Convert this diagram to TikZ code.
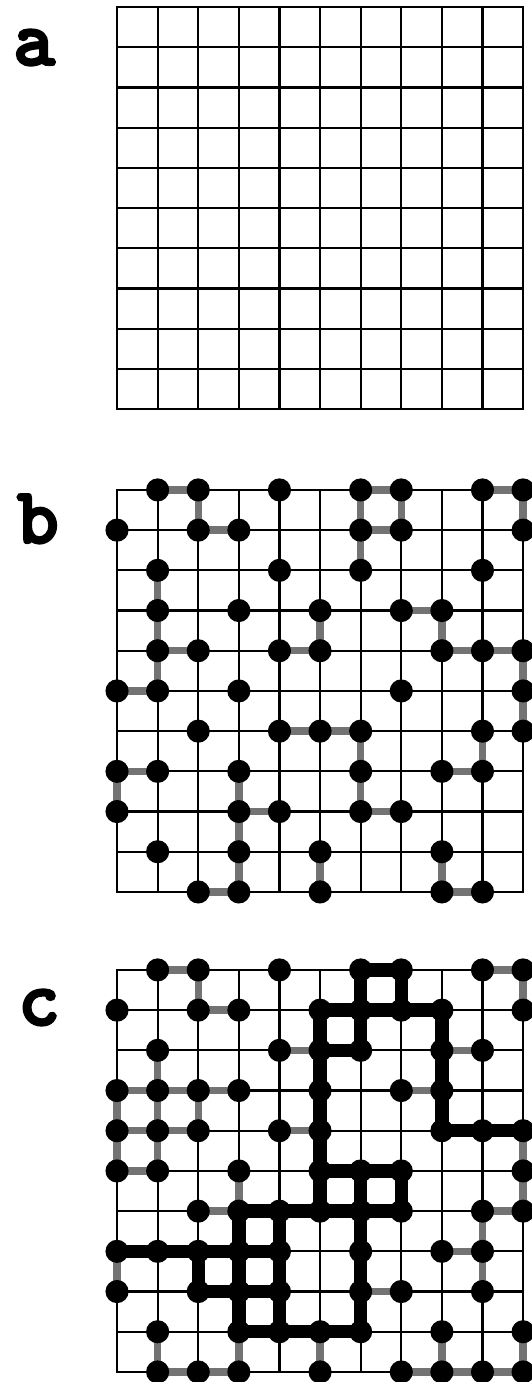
\documentclass[tikz,border=0pt]{standalone}
\usepackage{fontspec}
\newcommand\heavytext[1]{\special{pdf:literal q 2 Tr 1.6 w}#1\special{pdf:literal Q}}

\begin{document}
\begin{tikzpicture}[
  x=1cm, y=0.99cm,
  gridline/.style={line width=1.5pt, line cap=rect},
  site/.style={circle, fill=black, inner sep=0pt, minimum size=0.57cm},
  bond/.style={line width=5.2pt, draw=black!55},
  cluster/.style={line width=9.4pt, draw=black},
  panel/.style={anchor=base, inner sep=0pt, font=\ttfamily\bfseries\fontsize{56}{56}\selectfont}
]
\useasboundingbox (-2.882,0) rectangle (10.197,34.378);

% --- PANEL LABELS ---
\node[panel] (label-a) at (-2.04,32.76) {\heavytext{a}};
\node[panel] (label-b) at (-1.95,20.87) {\heavytext{b}};
\node[panel] (label-c) at (-1.92,8.88) {\heavytext{c}};

% --- LATTICE POINTS (column, row from top) ---
\foreach \i in {0,...,10}
  \foreach \j in {0,...,10} {
    \coordinate (a\i-\j) at ([shift={(0,24.20)}]\i,10-\j);
    \coordinate (b\i-\j) at ([shift={(0,12.19)}]\i,10-\j);
    \coordinate (c\i-\j) at ([shift={(0,0.25)}]\i,10-\j);
  }

% --- GRIDS ---
\foreach \p in {a,b,c}
  \foreach \i in {0,...,10} {
    \draw[gridline] (\p\i-0) -- (\p\i-10);
    \draw[gridline] (\p0-\i) -- (\p10-\i);
  }

% --- PANEL B: grey bonds ---
\foreach \c/\r [evaluate=\c as \next using int(\c+1)] in
  {1/0,6/0,9/0,2/1,6/1,7/3,1/4,4/4,8/4,9/4,0/5,4/6,5/6,0/7,8/7,3/8,6/8,2/10,8/10}
  \draw[bond] (b\c-\r) -- (b\next-\r);
\foreach \c/\r [evaluate=\r as \next using int(\r+1)] in
  {2/0,6/0,6/1,7/0,10/0,10/4,10/5,1/2,1/3,1/4,5/3,5/9,8/3,8/9,6/6,6/7,9/6,0/7,3/7,3/8,3/9}
  \draw[bond] (b\c-\r) -- (b\c-\next);

% --- PANEL C: grey bonds ---
\foreach \c/\r [evaluate=\c as \next using int(\c+1)] in
  {1/0,9/0,2/1,4/2,8/2,0/3,1/3,2/3,7/3,0/4,1/4,4/4,0/5,2/6,9/6,8/7,6/8,1/10,2/10,7/10,8/10,9/10}
  \draw[bond] (c\c-\r) -- (c\next-\r);
\foreach \c/\r [evaluate=\r as \next using int(\r+1)] in
  {2/0,2/3,10/0,10/4,10/5,10/9,1/2,1/3,1/4,1/9,0/3,0/4,0/7,3/5,3/9,9/6,9/7,5/9,8/9}
  \draw[bond] (c\c-\r) -- (c\c-\next);

% --- PANEL C: spanning cluster ---
\foreach \c/\r [evaluate=\c as \next using int(\c+1)] in
  {6/0,5/1,6/1,7/1,5/2,8/4,9/4,5/5,6/5,3/6,4/6,5/6,6/6,0/7,1/7,2/7,3/7,2/8,3/8,3/9,4/9,5/9}
  \draw[cluster] (c\c-\r) -- (c\next-\r);
\foreach \c/\r [evaluate=\r as \next using int(\r+1)] in
  {6/0,6/1,7/0,5/1,5/2,5/3,5/4,5/5,8/1,8/2,8/3,7/5,6/5,6/6,6/7,6/8,3/6,3/7,3/8,4/6,4/7,4/8,2/7}
  \draw[cluster] (c\c-\r) -- (c\c-\next);

% --- OCCUPIED SITES ---
\foreach \r/\cols in {0/{1,2,4,6,7,9,10}, 1/{0,2,3,6,7,10}, 2/{1,4,6,9},
    3/{1,3,5,7,8}, 4/{1,2,4,5,8,9,10}, 5/{0,1,3,7,10}, 6/{2,4,5,6,9,10},
    7/{0,1,3,6,8,9}, 8/{0,3,4,6,7}, 9/{1,3,5,8}, 10/{2,3,5,8,9}}
  \foreach \c in \cols
    \node[site] (bs\c-\r) at (b\c-\r) {};
\foreach \r/\cols in {0/{1,2,4,6,7,9,10}, 1/{0,2,3,5,6,7,8,10}, 2/{1,4,5,6,8,9},
    3/{0,1,2,3,5,7,8}, 4/{0,1,2,4,5,8,9,10}, 5/{0,1,3,5,6,7,10},
    6/{2,3,4,5,6,7,9,10}, 7/{0,1,2,3,4,6,8,9}, 8/{0,2,3,4,6,7,9},
    9/{1,3,4,5,6,8,10}, 10/{1,2,3,5,7,8,9,10}}
  \foreach \c in \cols
    \node[site] (cs\c-\r) at (c\c-\r) {};

\end{tikzpicture}
\end{document}
